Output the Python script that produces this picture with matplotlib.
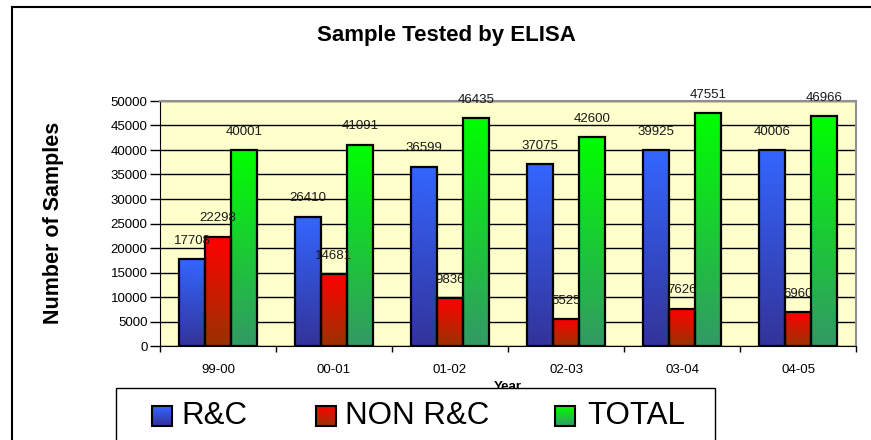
import numpy as np
import matplotlib
matplotlib.use("Agg")
import matplotlib.pyplot as plt
from matplotlib.colors import LinearSegmentedColormap
from matplotlib.patches import Rectangle

plt.rcParams['font.family'] = ['Liberation Sans', 'DejaVu Sans']

years = ["99-00", "00-01", "01-02", "02-03", "03-04", "04-05"]
rc = [17708, 26410, 36599, 37075, 39925, 40006]
non_rc = [22298, 14681, 9836, 5525, 7626, 6960]
total = [40001, 41091, 46435, 42600, 47551, 46966]

series = [("R&C", rc), ("NON R&C", non_rc), ("TOTAL", total)]
# (bottom colour, top colour) of each bar gradient
grads = [("#333399", "#3366ff"), ("#993300", "#ff0000"), ("#339966", "#00ff00")]

W, H = 871, 440
fig = plt.figure(figsize=(W / 100, H / 100), dpi=100)
ax = fig.add_axes([160 / W, 1 - 346 / H, 696 / W, 245 / H])
ax.set_facecolor("#ffffcc")

x = np.arange(len(years))
bw = 0.224
grad = np.linspace(0, 1, 256).reshape(-1, 1)
for k, (name, vals) in enumerate(series):
    cmap = LinearSegmentedColormap.from_list(name, grads[k])
    bars = ax.bar(x + (k - 1) * bw, vals, bw, facecolor="none",
                  edgecolor="black", linewidth=1.6, zorder=3)
    for b, v in zip(bars, vals):
        x0 = b.get_x()
        ax.imshow(grad, cmap=cmap, origin="lower", aspect="auto",
                  extent=[x0, x0 + b.get_width(), 0, b.get_height()], zorder=2)
        ax.annotate(str(v), (x0 + b.get_width() / 2, v), xytext=(0, 11),
                    textcoords="offset points", ha="center", va="baseline",
                    fontsize=9.5, color="#1a1a1a", zorder=4)

ax.set_xlim(-0.5, len(years) - 0.5)
ax.set_ylim(0, 50000)
ax.set_yticks(np.arange(0, 50001, 5000))
ax.yaxis.grid(True, color="black", linewidth=1)
ax.set_axisbelow(True)
ax.tick_params(axis="y", direction="out", length=7, width=1, labelsize=9.5, pad=2)
ax.set_xticks(x)
ax.set_xticklabels(years)
ax.set_xticks(np.arange(-0.5, len(years)), minor=True)
ax.tick_params(axis="x", which="major", length=0, labelsize=9.5, pad=13)
ax.tick_params(axis="x", which="minor", direction="out", length=4, width=1)
for s in ["top", "right"]:
    ax.spines[s].set_color("#909090")
    ax.spines[s].set_linewidth(1.5)
ax.set_xlabel("Year", fontsize=9.5, fontweight="bold", labelpad=3.5)

fig.text(446 / W, 1 - 36 / H, "Sample Tested by ELISA", ha="center", va="center",
         fontsize=16, fontweight="bold")
fig.text(53 / W, 1 - 223 / H, "Number of Samples", ha="center", va="center",
         rotation=90, fontsize=15.5, fontweight="bold")

# overlay in pixel units for the frame and the legend
ov = fig.add_axes([0, 0, 1, 1])
ov.set_xlim(0, W)
ov.set_ylim(H, 0)
ov.axis("off")
ov.set_zorder(5)
ov.plot([12, 12], [7, H + 5], color="black", lw=1.5)
ov.plot([12, W + 5], [7, 7], color="black", lw=1.5)
ov.add_patch(Rectangle((116, 388), 599, 60, facecolor="white", edgecolor="black", lw=1))
for (name, _), (c0, c1), px, tx in zip(series, grads, [152, 316, 555], [181, 345, 587]):
    cmap = LinearSegmentedColormap.from_list(name + "_leg", [c0, c1])
    ov.imshow(grad[::-1], cmap=cmap, aspect="auto", extent=[px, px + 20, 426, 406], zorder=3)
    ov.add_patch(Rectangle((px, 406), 20, 20, facecolor="none", edgecolor="black", lw=1.5, zorder=4))
    ov.text(tx, 416, name, ha="left", va="center", fontsize=22.5)
ov.set_xlim(0, W)
ov.set_ylim(H, 0)

fig.savefig("out.png", dpi=100)
